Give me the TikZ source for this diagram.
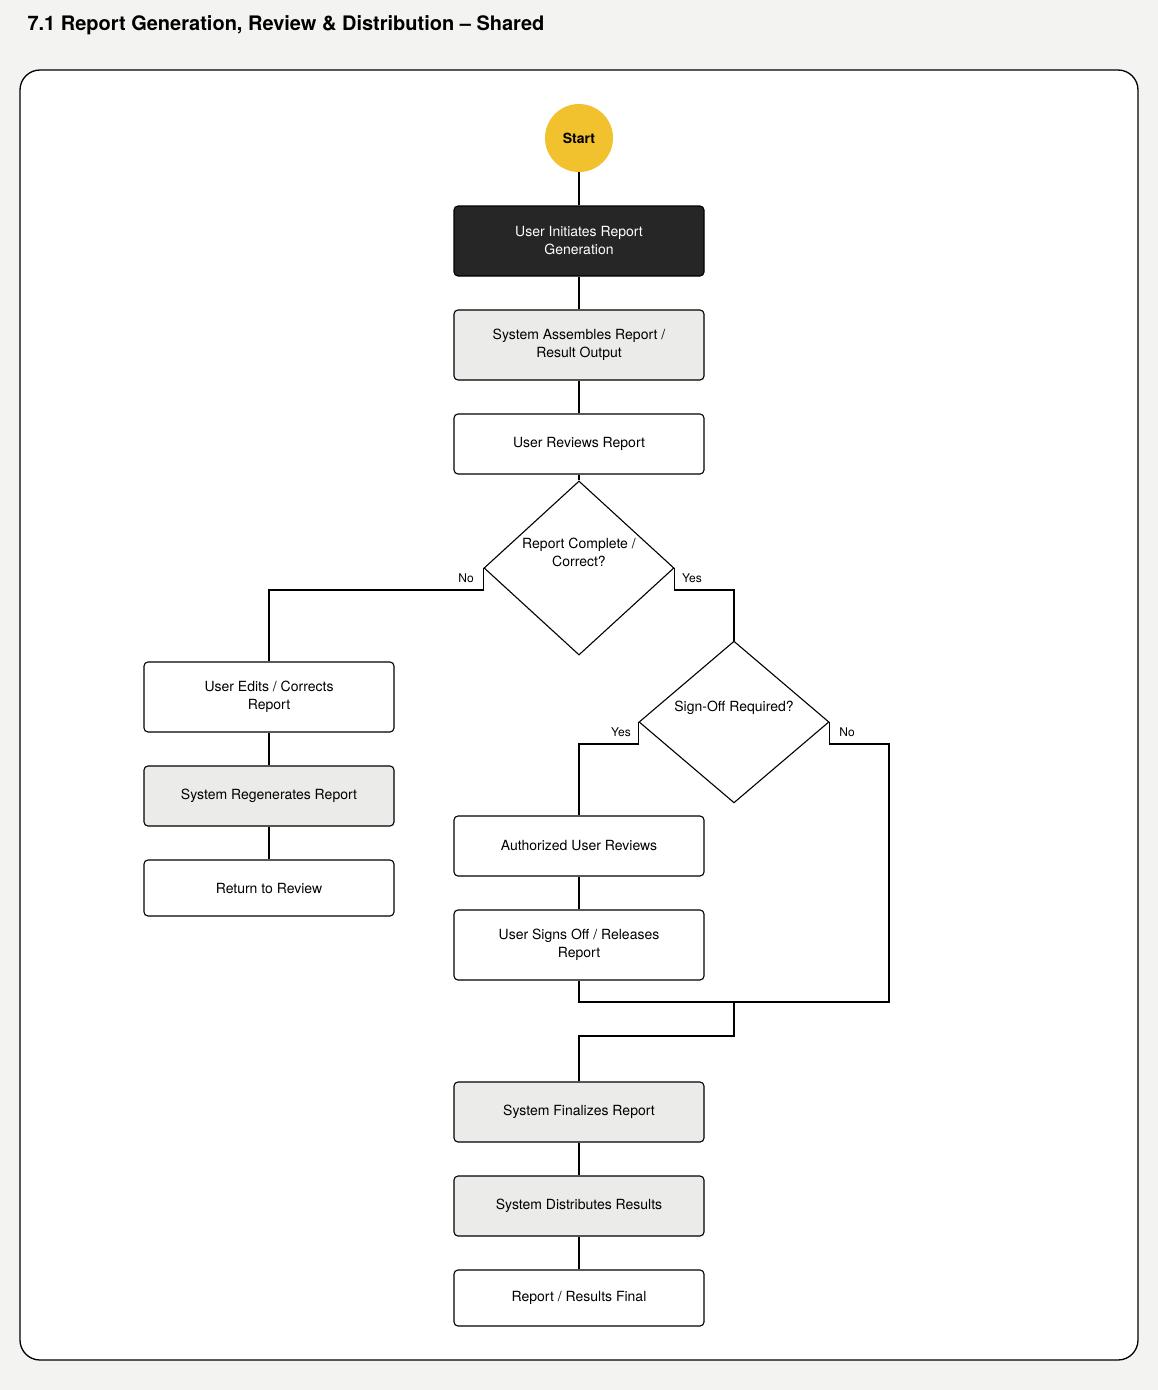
\documentclass[tikz,border=0pt]{standalone}
\usepackage{fontspec}
\setmainfont{TeX Gyre Heros}
\usetikzlibrary{shapes.geometric}
\definecolor{bg}{HTML}{F3F3F2}
\definecolor{gr}{HTML}{EBEBEA}
\definecolor{dk}{HTML}{262626}
\definecolor{yl}{HTML}{F2C12E}
\begin{document}
\begin{tikzpicture}[x=1pt,y=-1pt,
  box/.style={draw=black,line width=1.1pt,rounded corners=4pt,minimum width=250pt,align=center,font=\fontsize{14}{18}\selectfont,inner sep=0pt},
  wbox/.style={box,fill=white},
  gbox/.style={box,fill=gr},
  dbox/.style={box,fill=dk,text=white},
  dia/.style={diamond,draw=black,line width=1.1pt,fill=white,minimum width=190pt,minimum height=120pt,inner sep=0pt,align=center,font=\fontsize{14}{18}\selectfont},
  ln/.style={line width=1.1pt},
  lab/.style={font=\fontsize{12}{14}\selectfont}]
\fill[bg] (0,0) rectangle (1158,1390);
\useasboundingbox (0,0) rectangle (1158,1390);
\node[anchor=west,font=\bfseries\fontsize{20}{24}\selectfont] (title) at (24,25) {7.1 Report Generation, Review \& Distribution – Shared};
\draw[line width=1.3pt,fill=white,rounded corners=20pt] (20,70) rectangle (1138,1360);
\node[circle,fill=yl,minimum size=68pt,inner sep=0pt,font=\bfseries\fontsize{14}{16}\selectfont] (start) at (579,138) {Start};
\node[dbox,minimum height=70pt] (b1) at (579,241) {User Initiates Report\\Generation};
\node[gbox,minimum height=70pt] (b2) at (579,345) {System Assembles Report /\\Result Output};
\node[wbox,minimum height=60pt] (b3) at (579,444) {User Reviews Report};
\node[dia] (d1) at (579,568) {Report Complete /\\Correct?\\[14pt]};
\node[wbox,minimum height=70pt] (l1) at (269,697) {User Edits / Corrects\\Report};
\node[gbox,minimum height=60pt] (l2) at (269,796) {System Regenerates Report};
\node[wbox,minimum height=56pt] (l3) at (269,888) {Return to Review};
\node[dia] (d2) at (734,722) {Sign-Off Required?\\[14pt]};
\node[wbox,minimum height=60pt] (r1) at (579,846) {Authorized User Reviews};
\node[wbox,minimum height=70pt] (r2) at (579,945) {User Signs Off / Releases\\Report};
\node[gbox,minimum height=60pt] (f1) at (579,1112) {System Finalizes Report};
\node[gbox,minimum height=60pt] (f2) at (579,1206) {System Distributes Results};
\node[wbox,minimum height=56pt] (f3) at (579,1298) {Report / Results Final};
\coordinate (m1) at (734,1002);
\draw[ln] (start) -- (b1);
\draw[ln] (b1) -- (b2);
\draw[ln] (b2) -- (b3);
\draw[ln] (b3) -- (d1);
\draw[ln] (d1.west) -- ++(0,22) -| (l1.north);
\node[lab] (no1) at (466,578) {No};
\draw[ln] (d1.east) -- ++(0,22) -| (d2.north);
\node[lab] (yes1) at (692,578) {Yes};
\draw[ln] (l1) -- (l2);
\draw[ln] (l2) -- (l3);
\draw[ln] (d2.west) -- ++(0,22) -| (r1.north);
\node[lab] (yes2) at (621,732) {Yes};
\draw[ln] (d2.east) -- ++(0,22) -- (889,744) -- (889,1002) -- (m1);
\node[lab] (no2) at (847,732) {No};
\draw[ln] (r1) -- (r2);
\draw[ln] (r2.south) -- (579,1002) -- (m1);
\draw[ln] (m1) -- (734,1036) -- (579,1036) -- (f1.north);
\draw[ln] (f1) -- (f2);
\draw[ln] (f2) -- (f3);
\end{tikzpicture}
\end{document}
